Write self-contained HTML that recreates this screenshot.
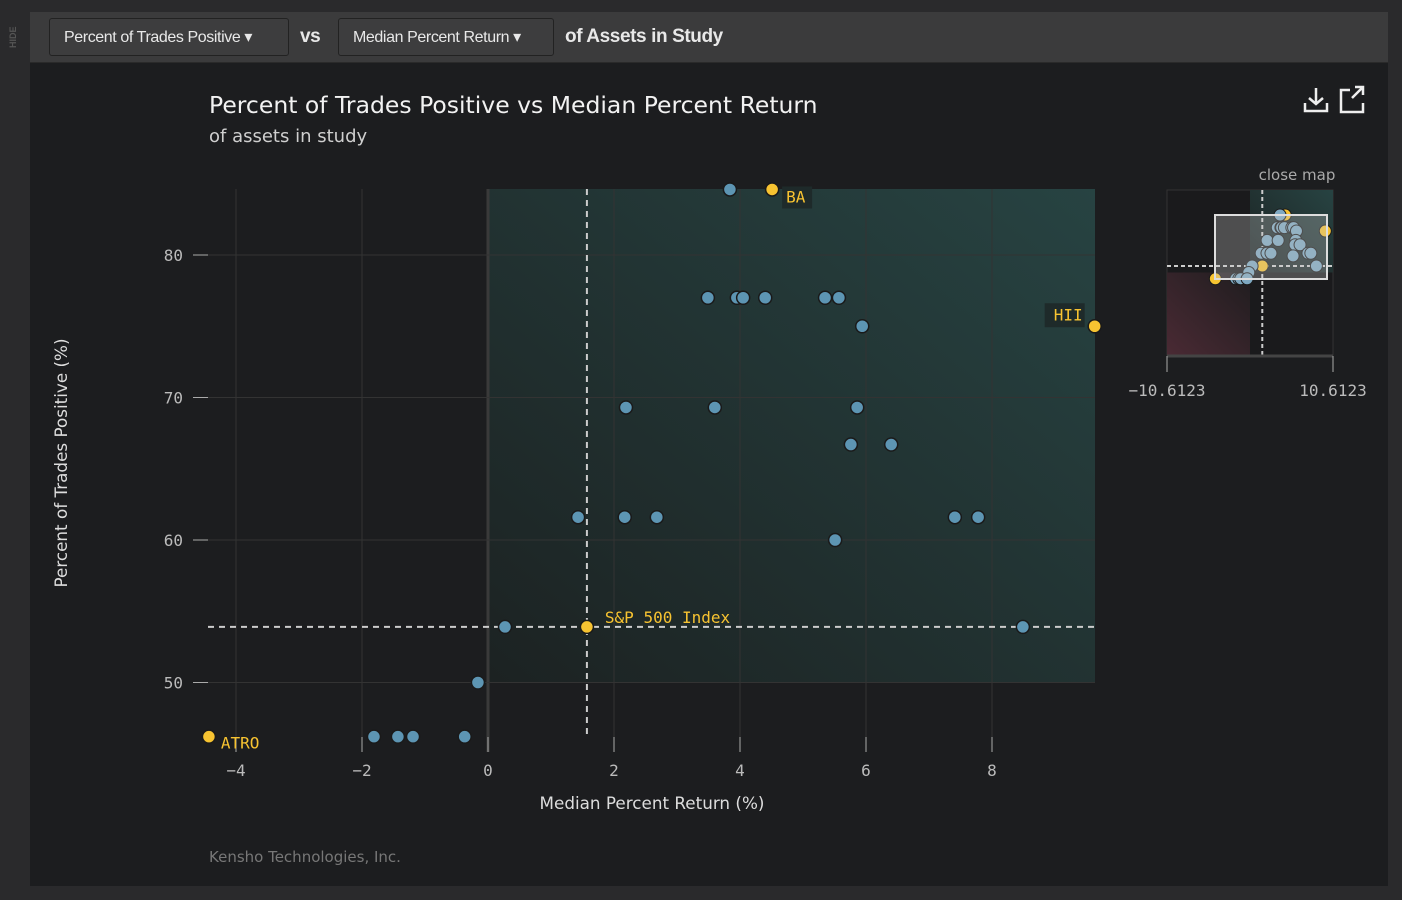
<!DOCTYPE html>
<html><head><meta charset="utf-8">
<style>
body{margin:0;width:1402px;height:900px;background:#2a2a2c;overflow:hidden;font-family:"Liberation Sans",sans-serif;}
#side{position:absolute;left:0;top:0;width:30px;height:900px;background:#2a2a2c;}
#hide{position:absolute;left:8px;color:#555;font-size:9px;font-weight:bold;transform:rotate(-90deg);transform-origin:left top;top:48px;}
#panel{position:absolute;left:30px;top:12px;width:1358px;height:874px;background:#1c1d1f;}
#bar{position:absolute;left:0;top:0;width:1358px;height:50px;background:#3b3b3c;border-bottom:1px solid #2a2a2a;}
.btn{position:absolute;top:6px;height:38px;border:1px solid #222;border-radius:3px;background:#3d3d3e;color:#e8e8e8;font-size:16px;line-height:38px;padding:0 14px;box-sizing:border-box;letter-spacing:-0.4px}
.lbl{position:absolute;top:7px;line-height:36px;color:#e8e8e8;font-size:19px;font-weight:bold;letter-spacing:-0.4px}
svg{position:absolute;left:0;top:0}
</style></head><body>
<div id="side"><div id="hide">HIDE</div></div>
<div id="panel">
 <div id="bar">
  <div class="btn" style="left:19px;width:240px">Percent of Trades Positive ▾</div>
  <div class="lbl" style="left:270px">vs</div>
  <div class="btn" style="left:308px;width:216px">Median Percent Return ▾</div>
  <div class="lbl" style="left:535px">of Assets in Study</div>
 </div>
</div>
<svg id="chart" width="1402" height="900">
<defs>
<linearGradient id="teal" x1="0" y1="1" x2="1" y2="0"><stop offset="0" stop-color="#1c2222"/><stop offset="1" stop-color="#274342"/></linearGradient>
<linearGradient id="red" x1="1" y1="0" x2="0" y2="1"><stop offset="0" stop-color="#1f1d1f"/><stop offset="1" stop-color="#4a2a34"/></linearGradient>
</defs>
</svg>
<script>
const xs=[-4.43,4.51,9.63,1.57,3.84,3.49,3.95,4.05,4.40,5.35,5.57,5.94,2.19,3.60,5.86,5.76,6.40,1.43,2.17,2.68,7.41,7.78,5.51,0.27,8.49,-0.16,-1.81,-1.43,-1.19,-0.37];
const ys=[46.2,84.6,75.0,53.9,84.6,77.0,77.0,77.0,77.0,77.0,77.0,75.0,69.3,69.3,69.3,66.7,66.7,61.6,61.6,61.6,61.6,61.6,60.0,53.9,53.9,50.0,46.2,46.2,46.2,46.2];
const labels=["ATRO","BA","HII","S&P 500 Index","","","","","","","","","","","","","","","","","","","","","","","","","",""];
const xTicks=[-4,-2,0,2,4,6,8];
const yTicks=[50,60,70,80];
const refX=1.57, refY=53.9;
const NS="http://www.w3.org/2000/svg";
const svg=document.getElementById('chart');
const X=v=>488+v*63, Y=v=>255+(80-v)*14.25;
const MX=v=>1250+v*7.82, MY=v=>266-(v-53.9)*1.66;
function el(t,a,txt){const e=document.createElementNS(NS,t);for(const k in a)e.setAttribute(k,a[k]);if(txt!=null)e.textContent=txt;svg.appendChild(e);return e;}
const mono='"DejaVu Sans Mono","Liberation Mono",monospace', sans='"DejaVu Sans","Liberation Sans",sans-serif';
let e;
e=el('text',{x:209,y:113,fill:'#f2f2f2','font-size':23.5,'font-family':sans},'Percent of Trades Positive vs Median Percent Return');

e=el('text',{x:209,y:142,fill:'#cfcfcf','font-size':18,'font-family':sans},'of assets in study');

e=el('path',{d:'M1305 103v8h22v-8M1316 88v16M1309 98l7 6 7-6',stroke:'#eee','stroke-width':2.5,fill:'none'});

e=el('path',{d:'M1350 90h-9v22h22v-9M1352 98l11-11M1355 87h8v8',stroke:'#eee','stroke-width':2.5,fill:'none'});

e=el('rect',{x:X(0),y:189,width:1095-X(0),height:Y(50)-189,fill:'url(#teal)'});

xTicks.forEach(t=>{if(t===0)return;e=el('line',{x1:X(t),x2:X(t),y1:189,y2:745,stroke:'#333',"stroke-width":1});});
e=el('line',{x1:X(0),x2:X(0),y1:189,y2:752,stroke:'#3a3a3a','stroke-width':3});
yTicks.forEach(t=>{e=el('line',{x1:208,x2:1095,y1:Y(t),y2:Y(t),stroke:'#333'});
 e=el('line',{x1:193,x2:208,y1:Y(t),y2:Y(t),stroke:'#aaa'});
 e=el('text',{x:183,y:Y(t)+6,fill:'#bbb','font-size':16,'font-family':mono,'text-anchor':'end'},t);});
xTicks.forEach(t=>{e=el('line',{x1:X(t),x2:X(t),y1:737,y2:752,stroke:'#aaa'});
 e=el('text',{x:X(t),y:776,fill:'#bbb','font-size':16,'font-family':mono,'text-anchor':'middle'},t<0?'−'+(-t):t);});
e=el('text',{x:652,y:809,fill:'#ddd','font-size':16.8,'font-family':sans,'text-anchor':'middle'},'Median Percent Return (%)');
e=el('text',{x:0,y:0,fill:'#ddd','font-size':16.8,'font-family':sans,'text-anchor':'middle',transform:'translate(67,463) rotate(-90)'},'Percent of Trades Positive (%)');
e=el('line',{x1:X(refX),x2:X(refX),y1:189,y2:735,stroke:'#ccc','stroke-dasharray':'6,5','stroke-width':2});
e=el('line',{x1:208,x2:1095,y1:Y(refY),y2:Y(refY),stroke:'#ccc','stroke-dasharray':'6,5','stroke-width':2});
xs.forEach((v,i)=>{const hl=labels[i]!=="";
 const c=el('circle',{cx:X(v),cy:Y(ys[i]),r:6.5,fill:hl?'#f7c331':'#5d95b3',stroke:'#1a1a1a','stroke-width':1.5});
 
 
 if(hl){let lx=X(v)+12,ly=Y(ys[i])+12,anc='start';
  if(labels[i]==='HII'){lx=X(v)-12;ly=Y(ys[i])-6;anc='end';el('rect',{x:lx-38,y:ly-17,width:40,height:24,fill:'#1e2a2a'});}
  if(labels[i].startsWith('S&P')){ly=Y(ys[i])-4;lx=X(v)+18;}
  if(labels[i]==='BA'){ly=Y(ys[i])+13;lx=X(v)+14;el('rect',{x:lx-4,y:ly-16,width:30,height:22,fill:'#1e2a2a'});}
  const t=el('text',{x:lx,y:ly,fill:'#f7c331','font-size':16,'font-family':mono,'text-anchor':anc},labels[i]);
  
  }
});
e=el('text',{x:209,y:862,fill:'#777','font-size':15,'font-family':sans},'Kensho Technologies, Inc.');
e=el('text',{x:1297,y:180,fill:'#aaa','font-size':15,'font-family':sans,'text-anchor':'middle'},'close map');
e=el('rect',{x:1167,y:190,width:166,height:165,fill:'#1a1a1c',stroke:'#333'});
el('rect',{x:1250,y:190,width:83,height:MY(50)-190,fill:'url(#teal)'});
el('rect',{x:1167,y:MY(50),width:83,height:355-MY(50),fill:'url(#red)'});
el('line',{x1:MX(refX),x2:MX(refX),y1:190,y2:355,stroke:'#ccc','stroke-dasharray':'4,3','stroke-width':2});
el('line',{x1:1167,x2:1333,y1:MY(refY),y2:MY(refY),stroke:'#ccc','stroke-dasharray':'4,3','stroke-width':2});
xs.forEach((v,i)=>{const c=el('circle',{cx:MX(v),cy:MY(ys[i]),r:6,fill:labels[i]?'#f7c331':'#7fa9c2',stroke:'#1a1a1a'});
 
 });
e=el('rect',{x:1215,y:215,width:112,height:64,fill:'rgba(200,200,200,0.3)',stroke:'#ddd','stroke-width':2});
el('line',{x1:1167,x2:1333,y1:356,y2:356,stroke:'#444','stroke-width':3});
el('line',{x1:1167,x2:1167,y1:356,y2:372,stroke:'#aaa'});el('line',{x1:1333,x2:1333,y1:356,y2:372,stroke:'#aaa'});
e=el('text',{x:1167,y:396,fill:'#bbb','font-size':16,'font-family':mono,'text-anchor':'middle'},'−10.6123');
e=el('text',{x:1333,y:396,fill:'#bbb','font-size':16,'font-family':mono,'text-anchor':'middle'},'10.6123');
</script>
</body></html>
